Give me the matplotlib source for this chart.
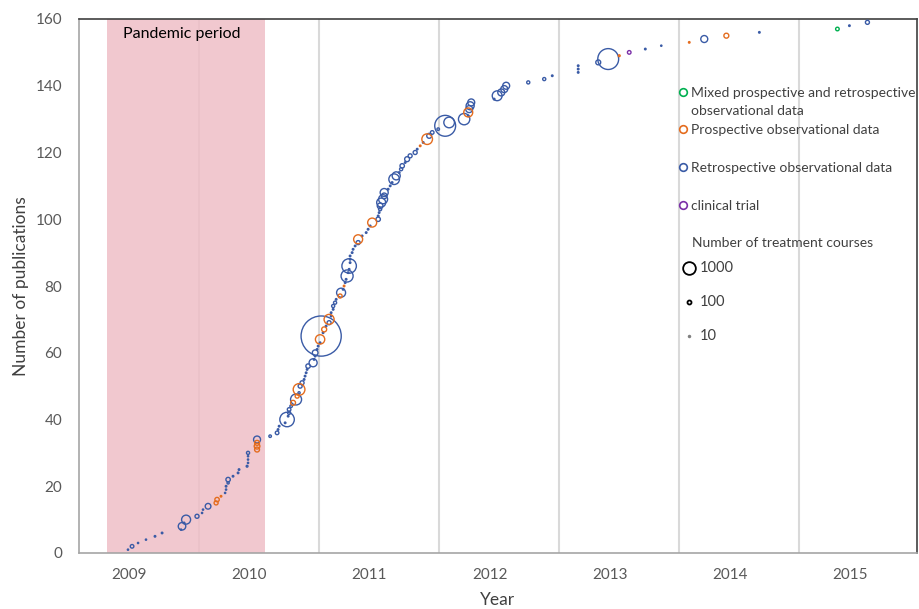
import numpy as np
import matplotlib.pyplot as plt

plt.rcParams['font.family'] = ['Lato', 'DejaVu Sans']

# publication date (decimal year), treatment courses and study design, in order of publication
pub_date = [
    2009.408, 2009.442, 2009.492, 2009.558, 2009.633, 2009.692, 2009.850, 2009.858, 2009.875, 2009.892,
    2009.983, 2010.025, 2010.033, 2010.075, 2010.142, 2010.150, 2010.183, 2010.217, 2010.225, 2010.225,
    2010.242, 2010.242, 2010.283, 2010.325, 2010.333, 2010.400, 2010.408, 2010.408, 2010.408, 2010.408,
    2010.483, 2010.483, 2010.483, 2010.483, 2010.592, 2010.650, 2010.658, 2010.667, 2010.717, 2010.733,
    2010.742, 2010.750, 2010.750, 2010.767, 2010.783, 2010.808, 2010.817, 2010.833, 2010.833, 2010.842,
    2010.858, 2010.875, 2010.883, 2010.892, 2010.900, 2010.908, 2010.950, 2010.958, 2010.967, 2010.967,
    2010.983, 2010.992, 2011.008, 2011.008, 2011.017, 2011.033, 2011.042, 2011.058, 2011.083, 2011.083,
    2011.100, 2011.100, 2011.117, 2011.117, 2011.133, 2011.142, 2011.175, 2011.183, 2011.200, 2011.208,
    2011.217, 2011.225, 2011.233, 2011.242, 2011.250, 2011.250, 2011.258, 2011.258, 2011.258, 2011.275,
    2011.283, 2011.300, 2011.325, 2011.325, 2011.358, 2011.392, 2011.408, 2011.425, 2011.442, 2011.492,
    2011.492, 2011.500, 2011.508, 2011.508, 2011.517, 2011.533, 2011.542, 2011.542, 2011.575, 2011.592,
    2011.608, 2011.625, 2011.642, 2011.667, 2011.683, 2011.692, 2011.717, 2011.733, 2011.758, 2011.800,
    2011.817, 2011.842, 2011.867, 2011.900, 2011.917, 2011.942, 2011.992, 2012.050, 2012.083, 2012.208,
    2012.242, 2012.242, 2012.250, 2012.258, 2012.267, 2012.458, 2012.483, 2012.517, 2012.542, 2012.558,
    2012.742, 2012.875, 2012.942, 2013.158, 2013.158, 2013.158, 2013.325, 2013.408, 2013.500, 2013.583,
    2013.717, 2013.850, 2014.083, 2014.208, 2014.392, 2014.667, 2015.317, 2015.417, 2015.567,
]
courses = [
    10, 80, 10, 10, 15, 15, 10, 350, 15, 500,
    100, 10, 10, 200, 100, 120, 15, 10, 10, 15,
    30, 120, 15, 15, 15, 20, 10, 10, 10, 60,
    150, 200, 150, 300, 40, 80, 15, 15, 15, 1300,
    15, 60, 80, 40, 150, 750, 100, 30, 850, 100,
    100, 15, 15, 15, 15, 120, 400, 15, 15, 200,
    15, 15, 15, 540, 10000, 15, 155, 15, 100, 620,
    15, 15, 15, 60, 60, 15, 100, 500, 15, 15,
    15, 15, 900, 15, 15, 1300, 15, 15, 15, 15,
    15, 15, 100, 500, 15, 15, 15, 15, 500, 120,
    15, 15, 60, 200, 500, 500, 200, 400, 15, 15,
    15, 700, 400, 15, 60, 120, 15, 150, 100, 100,
    15, 15, 15, 700, 150, 80, 40, 2700, 700, 800,
    15, 500, 300, 400, 300, 15, 600, 300, 300, 300,
    60, 60, 15, 15, 15, 15, 150, 2700, 20, 80,
    15, 10, 15, 300, 150, 15, 80, 15, 100,
]
design = list(
    'RRRRRRRRRR'
    'RRRRPPPRRR'
    'RRRRRRRRRR'
    'PPPRRRRRRR'
    'RRRRPRPRPR'
    'RRRRRRRRRR'
    'RRRPRRPRRP'
    'RRRRRRPRRP'
    'RRRRRRRRRR'
    'RRRPRRRRPR'
    'RRRRRRRRRR'
    'RRRRRRRRRR'
    'RPRPRRRRRR'
    'RPRRRRRRRR'
    'RRRRRRRRPC'
    'RRPRPRMRR'
)
# cumulative count of publications
pub_number = np.arange(1, len(pub_date) + 1)

design_names = {
    'M': 'Mixed prospective and retrospective\nobservational data',
    'P': 'Prospective observational data',
    'R': 'Retrospective observational data',
    'C': 'clinical trial',
}
design_colors = {'M': '#00B050', 'P': '#E46C1E', 'R': '#3A5BA6', 'C': '#7B30A8'}
size_legend = [1000, 100, 10]
years = [2009, 2010, 2011, 2012, 2013, 2014, 2015]
pandemic = (2009.233, 2010.55)

W, H = 919, 609
fig = plt.figure(figsize=(W / 100, H / 100), dpi=100)
ax = fig.add_axes([79 / W, 1 - 553 / H, 838 / W, 534 / H])

pub_date = np.array(pub_date)
courses = np.array(courses)
design = np.array(design)

# marker area: 1000 courses ~ 12.7 px diameter
scale = (0.72 * 12.7) ** 2 / 1000

for yr in years[1:]:
    ax.axvline(yr, color='#D9D9D9', lw=1.5, zorder=1)
ax.axvspan(*pandemic, color='#EFBFC7', alpha=0.85, lw=0, zorder=2)
ax.text(2009.37, 155.5, 'Pandemic period', fontsize=11.5, color='black', va='center', zorder=3)

order = np.argsort(-courses)
for code in ['R', 'P', 'C', 'M']:
    m = design[order] == code
    ax.scatter(pub_date[order][m], pub_number[order][m], s=courses[order][m] * scale,
               facecolors='none', edgecolors=design_colors[code], linewidths=1.0, zorder=4)

ax.set_xlim(2009, 2015.98)
ax.set_ylim(0, 160)
ax.set_yticks(range(0, 161, 20))
ax.set_xticks([y + 0.42 for y in years])
ax.set_xticklabels([str(y) for y in years])
ax.tick_params(length=0, labelsize=11, colors='#595959', pad=11)
ax.tick_params(axis='y', pad=12)
ax.set_xlabel('Year', fontsize=12.5, color='#404040', labelpad=7)
ax.set_ylabel('Number of publications', fontsize=12.5, color='#404040', labelpad=5)
for side in ['left', 'bottom']:
    ax.spines[side].set_color('#A6A6A6')
for side in ['top', 'right']:
    ax.spines[side].set_color('#404040')
for sp in ax.spines.values():
    sp.set_linewidth(1.2)


def fpos(px, py):
    return px / W, 1 - py / H


# design legend
for code, py in zip(['M', 'P', 'R', 'C'], [92, 129, 167, 205]):
    x, y = fpos(683, py)
    fig.add_artist(plt.Line2D([x], [y], marker='o', ms=5.5, mfc='none', mec=design_colors[code], mew=1.2))
    tx, ty = fpos(691, py - 5)
    fig.text(tx, ty, design_names[code], fontsize=10, color='#404040', va='top', linespacing=1.6)

# size legend
x, y = fpos(692, 243)
fig.text(x, y, 'Number of treatment courses', fontsize=10, color='#404040', va='center')
for val, py in zip(size_legend, [268, 302, 336]):
    x, y = fpos(689, py)
    d = 12.7 * 0.72 * np.sqrt(val / 1000)
    col = 'black' if val >= 100 else '#808080'
    fig.add_artist(plt.Line2D([x], [y], marker='o', ms=max(d, 1.2), mfc='none', mec=col, mew=1.3))
    tx, ty = fpos(700, py)
    fig.text(tx, ty, str(val), fontsize=10.5, color='#404040', va='center')

fig.savefig('out.png', dpi=100)
